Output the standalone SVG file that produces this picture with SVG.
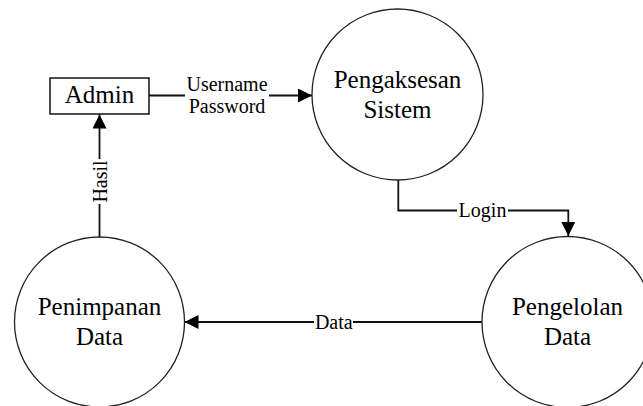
<svg xmlns="http://www.w3.org/2000/svg" width="643" height="406" viewBox="0 0 643 406">
<style>
.node{fill:#fff;stroke:#222;stroke-width:1.3}
.box{fill:#fff;stroke:#111;stroke-width:1.5}
.edge{fill:none;stroke:#111;stroke-width:1.8}
text{font-family:'Liberation Serif',serif;fill:#000;text-anchor:middle}
.nt{font-size:25px}
.lt{font-size:20px}
.bg{fill:#fff;stroke:none}
</style>
<defs>
<marker id="arr" viewBox="0 0 14 14" refX="14" refY="7" markerWidth="14" markerHeight="14" markerUnits="userSpaceOnUse" orient="auto">
<path d="M0,0 L14,7 L0,14 z" fill="#000"/>
</marker>
</defs>
<rect width="643" height="406" fill="#fff"/>
<g id="connectors">
<g id="e-admin-pengaksesan">
<path class="edge" d="M149,95.5 L312,95.5" marker-end="url(#arr)"/>
<rect class="bg" x="185" y="75" width="84" height="41"/>
<text class="lt" x="227" y="90.5">Username</text>
<text class="lt" x="227" y="112.5">Password</text>
</g>
<g id="e-pengaksesan-pengelolan">
<path class="edge" d="M398.3,180 L398.3,210.5 L568.3,210.5 L568.3,236" marker-end="url(#arr)"/>
<rect class="bg" x="457" y="200" width="51" height="20"/>
<text class="lt" x="482.5" y="216.5">Login</text>
</g>
<g id="e-pengelolan-penimpanan">
<path class="edge" d="M482,322 L184.5,322" marker-end="url(#arr)"/>
<rect class="bg" x="314" y="312" width="39" height="20"/>
<text class="lt" x="333.8" y="329">Data</text>
</g>
<g id="e-penimpanan-admin">
<path class="edge" d="M99.5,237 L99.5,114.5" marker-end="url(#arr)"/>
<rect class="bg" x="90" y="159" width="19" height="45"/>
<text class="lt" transform="translate(99.5,181.5) rotate(-90)" x="0" y="7">Hasil</text>
</g>
</g>
<g id="admin">
<rect class="box" x="50" y="78" width="99" height="36"/>
<text class="nt" x="99.5" y="103">Admin</text>
</g>
<g id="pengaksesan">
<circle class="node" cx="397.5" cy="94.5" r="85.5"/>
<text class="nt" x="397.5" y="88">Pengaksesan</text>
<text class="nt" x="397.5" y="118">Sistem</text>
</g>
<g id="pengelolan">
<circle class="node" cx="567.5" cy="322" r="85.5"/>
<text class="nt" x="567.5" y="315">Pengelolan</text>
<text class="nt" x="567.5" y="345">Data</text>
</g>
<g id="penimpanan">
<circle class="node" cx="99.5" cy="322" r="85"/>
<text class="nt" x="99.5" y="315">Penimpanan</text>
<text class="nt" x="99.5" y="345">Data</text>
</g>
</svg>
